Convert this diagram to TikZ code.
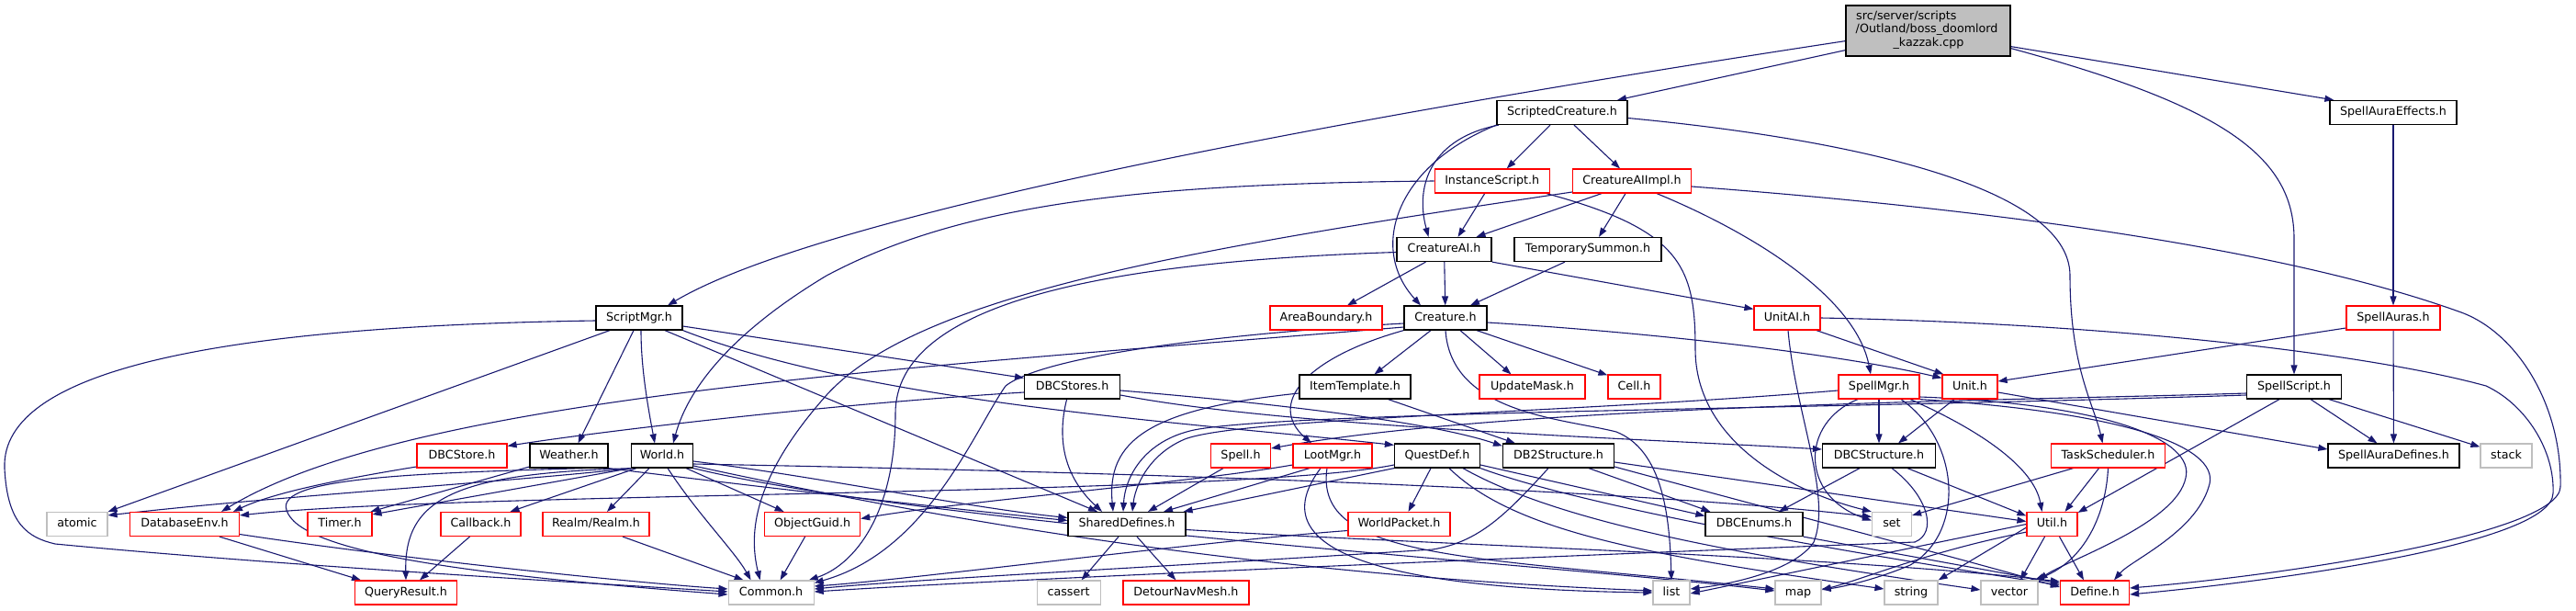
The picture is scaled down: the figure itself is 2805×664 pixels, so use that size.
\documentclass[tikz,border=0pt]{standalone}
\usepackage{fontspec}
\setmainfont{DejaVu Sans}
\usetikzlibrary{arrows.meta,backgrounds}
\definecolor{edgec}{HTML}{191970}
\definecolor{grayb}{HTML}{BFBFBF}
\definecolor{redb}{HTML}{FF0000}
\newcommand{\nodefont}{\fontsize{12.7}{14.7}\selectfont}
\tikzset{
  nbox/.style={draw=black, line width=1.2pt, minimum height=26pt, inner sep=0pt, text height=9.5pt, text depth=2.7pt, font=\nodefont, fill=white},
  rbox/.style={nbox, draw=redb},
  gbox/.style={nbox, draw=grayb},
  edg/.style={draw=edgec, line width=1.1pt, -{Triangle[length=10pt,width=7pt]}},
  lbl/.style={inner sep=0pt, font=\nodefont},
}
\begin{document}
\begin{tikzpicture}[x=1pt,y=-1pt]
\useasboundingbox (0,0) rectangle (2805,664);
% ---------- nodes ----------
\node[nbox, fill=grayb, minimum width=179pt, minimum height=55pt] (root) at (2099.5,33.5) {};
\node[lbl, anchor=base west] (rootA) at (2021,21) {src/server/scripts};
\node[lbl, anchor=base west] (rootB) at (2020.5,35.7) {/Outland/boss\_doomlord};
\node[lbl, anchor=base] (rootC) at (2100,50.4) {\_kazzak.cpp};

\node[nbox, minimum width=142pt] (SC) at (1701,122.5) {ScriptedCreature.h};
\node[nbox, minimum width=138pt] (SAE) at (2606,122.5) {SpellAuraEffects.h};
\node[rbox, minimum width=125pt] (IS) at (1624.7,197) {InstanceScript.h};
\node[rbox, minimum width=129pt] (CAII) at (1777,197) {CreatureAIImpl.h};
\node[nbox, minimum width=103pt] (CAI) at (1572.5,271.5) {CreatureAI.h};
\node[nbox, minimum width=160pt] (TS) at (1729,271.5) {TemporarySummon.h};
\node[nbox, minimum width=94pt] (SM) at (696,346) {ScriptMgr.h};
\node[rbox, minimum width=122pt] (AB) at (1444,346) {AreaBoundary.h};
\node[nbox, minimum width=90pt] (CR) at (1574,346) {Creature.h};
\node[rbox, minimum width=72pt] (UAI) at (1946,346) {UnitAI.h};
\node[rbox, minimum width=102pt] (SA) at (2606,346) {SpellAuras.h};
\node[nbox, minimum width=104pt] (DBCS) at (1167.6,421) {DBCStores.h};
\node[nbox, minimum width=121pt] (IT) at (1475.5,421) {ItemTemplate.h};
\node[rbox, minimum width=115pt] (UM) at (1668.5,421) {UpdateMask.h};
\node[rbox, minimum width=57pt] (CE) at (1779.5,421) {Cell.h};
\node[rbox, minimum width=88pt] (SPM) at (2046,421) {SpellMgr.h};
\node[rbox, minimum width=60pt] (UN) at (2145,421) {Unit.h};
\node[nbox, minimum width=103pt] (SS) at (2498,421) {SpellScript.h};
\node[rbox, minimum width=98pt] (DST) at (503,496) {DBCStore.h};
\node[nbox, minimum width=85pt] (WE) at (619.5,496) {Weather.h};
\node[nbox, minimum width=67pt] (WO) at (721,496) {World.h};
\node[rbox, minimum width=65pt] (SP) at (1351,496) {Spell.h};
\node[rbox, minimum width=86pt] (LM) at (1451,496) {LootMgr.h};
\node[nbox, minimum width=93pt] (QD) at (1565,496) {QuestDef.h};
\node[nbox, minimum width=121pt] (DB2) at (1697,496) {DB2Structure.h};
\node[nbox, minimum width=123pt] (DBCST) at (2046,496) {DBCStructure.h};
\node[rbox, minimum width=124pt] (TSK) at (2295.5,496) {TaskScheduler.h};
\node[nbox, minimum width=143pt] (SAD) at (2606.5,496) {SpellAuraDefines.h};
\node[gbox, minimum width=56pt] (ST) at (2729,496) {stack};
\node[gbox, minimum width=66pt] (AT) at (84,570.5) {atomic};
\node[rbox, minimum width=119pt] (DE) at (201,570.5) {DatabaseEnv.h};
\node[rbox, minimum width=70pt] (TI) at (370,570.5) {Timer.h};
\node[rbox, minimum width=87pt] (CB) at (523.5,570.5) {Callback.h};
\node[rbox, minimum width=116pt] (RE) at (649,570.5) {Realm/Realm.h};
\node[rbox, minimum width=104pt] (OG) at (884.6,570.5) {ObjectGuid.h};
\node[nbox, minimum width=128pt] (SD) at (1227,570.5) {SharedDefines.h};
\node[rbox, minimum width=111pt] (WP) at (1523.5,570.5) {WorldPacket.h};
\node[nbox, minimum width=106pt] (DBE) at (1910,570.5) {DBCEnums.h};
\node[gbox, minimum width=43pt] (SET) at (2060,570.5) {set};
\node[rbox, minimum width=55pt] (UT) at (2234.5,570.5) {Util.h};
\node[rbox, minimum width=111pt] (QR) at (442,645) {QueryResult.h};
\node[gbox, minimum width=93pt] (CO) at (839.6,645) {Common.h};
\node[gbox, minimum width=69pt] (CA) at (1163.6,645) {cassert};
\node[rbox, minimum width=137pt] (DN) at (1291.4,645) {DetourNavMesh.h};
\node[gbox, minimum width=40pt] (LI) at (1820,645) {list};
\node[gbox, minimum width=50pt] (MA) at (1958,645) {map};
\node[gbox, minimum width=58pt] (STR) at (2081,645) {string};
\node[gbox, minimum width=62pt] (VE) at (2188,645) {vector};
\node[rbox, minimum width=75pt] (DF) at (2281,645) {Define.h};

% ---------- edges ----------
\begin{pgfonlayer}{background}
% root
\draw[edg] ([yshift=7pt]root.south west) -- ([xshift=60pt]SC.north);
\draw[edg] ([yshift=17pt]root.south west) .. controls (1500,122) and (900,230) .. ([xshift=31pt]SM.north);
\draw[edg] ([yshift=11pt]root.south east) -- ([xshift=5pt]SAE.north west);
\draw[edg] ([yshift=9pt]root.south east) .. controls (2420,115) and (2498,170) .. (2498,260) -- (SS.north);
% ScriptedCreature
\draw[edg] ([xshift=-13pt]SC.south) -- ([xshift=16pt]IS.north);
\draw[edg] ([xshift=13pt]SC.south) -- ([xshift=-13pt]CAII.north);
\draw[edg] ([xshift=-69pt]SC.south) .. controls (1560,150) and (1540,200) .. ([xshift=-17pt]CAI.north);
\draw[edg] (SC.south west) .. controls (1520,180) and (1490,270) .. ([xshift=-27pt]CR.north);
\draw[edg] ([yshift=-6pt]SC.east) .. controls (2000,150) and (2254,200) .. (2254,300) .. controls (2254,400) and (2280,440) .. ([xshift=-6pt]TSK.north);
% SpellAuraEffects
\draw[edg] (SAE) -- (SA);
% InstanceScript
\draw[edg] (IS.west) .. controls (1250,200) and (1050,220) .. (900,300) .. controls (800,360) and (750,420) .. ([xshift=12pt]WO.north);
\draw[edg] ([xshift=-8pt]IS.south) -- ([xshift=15pt]CAI.north);
\draw[edg] ([xshift=-4pt]IS.south east) .. controls (1830,250) and (1846,290) .. (1846,380) .. controls (1846,480) and (1950,535) .. (SET.north west);
% CreatureAIImpl
\draw[edg] ([xshift=-33pt]CAII.south) -- ([xshift=35pt]CAI.north);
\draw[edg] ([xshift=-7pt]CAII.south) -- ([xshift=12pt]TS.north);
\draw[edg] ([yshift=-12pt]CAII.west) .. controls (1300,270) and (1000,320) .. (900,430) .. controls (820,520) and (815,580) .. ([xshift=-12pt]CO.north);
\draw[edg] ([yshift=-6pt]CAII.east) .. controls (2200,230) and (2500,275) .. (2680,340) .. controls (2740,362) and (2790,440) .. (2788,530) .. controls (2786,580) and (2500,625) .. ([yshift=5pt]DF.east);
\draw[edg] ([xshift=27pt]CAII.south) .. controls (1900,250) and (2020,320) .. ([xshift=-9pt]SPM.north);
% CreatureAI
\draw[edg] (CAI) -- (CR);
\draw[edg] ([xshift=-20pt]CAI.south) -- ([xshift=23pt]AB.north);
\draw[edg] (CAI.south east) -- ([yshift=-4pt]UAI.north west);
\draw[edg] ([yshift=-3pt]CAI.west) .. controls (1200,285) and (975,330) .. (975,450) .. controls (975,560) and (930,615) .. ([xshift=-6pt]CO.north east);
% TemporarySummon
\draw[edg] ([xshift=-25pt]TS.south) -- ([xshift=27pt]CR.north);
% ScriptMgr
\draw[edg] ([yshift=-3pt]SM.west) .. controls (250,355) and (0,400) .. (5,510) .. controls (8,570) and (30,585) .. (60,592) .. controls (300,615) and (600,632) .. ([yshift=1pt]CO.west);
\draw[edg] ([xshift=-32pt]SM.south) -- (AT.north east);
\draw[edg] ([xshift=-6pt]SM.south) -- ([xshift=10pt]WE.north);
\draw[edg] ([xshift=2pt]SM.south) .. controls (698,400) and (705,440) .. ([xshift=-8pt]WO.north);
\draw[edg] ([yshift=-9pt]SM.east) -- ([yshift=-4pt]DBCS.north west);
\draw[edg] ([xshift=28pt]SM.south) -- ([xshift=-32pt]SD.north);
\draw[edg] (SM.south east) .. controls (950,440) and (1300,460) .. ([yshift=-2pt]QD.north west);
% Creature
\draw[edg] ([xshift=-16pt]CR.south) -- ([xshift=21pt]IT.north);
\draw[edg] ([xshift=16pt]CR.south) -- ([xshift=-23pt]UM.north);
\draw[edg] ([xshift=34pt]CR.south) -- ([yshift=-1pt]CE.north west);
\draw[edg] (CR.south west) .. controls (1420,390) and (1380,440) .. ([xshift=-23pt]LM.north);
\draw[edg] (CR.south) .. controls (1580,450) and (1700,455) .. (1760,470) .. controls (1810,490) and (1818,560) .. (LI.north);
\draw[edg] ([yshift=-5pt]CR.east) .. controls (1800,362) and (2000,385) .. ([yshift=-4pt]UN.north west);
\draw[edg] ([yshift=-10pt]CR.west) .. controls (1000,400) and (450,430) .. ([xshift=40pt]DE.north);
\draw[edg] ([yshift=-6pt]CR.west) .. controls (1350,362) and (1140,385) .. (1095,420) .. controls (1060,470) and (1010,600) .. ([yshift=-3pt]CO.north east);
% UnitAI
\draw[edg] ([xshift=32pt]UAI.south) -- ([xshift=2pt]UN.north west);
\draw[edg] ([xshift=1pt]UAI.south) .. controls (1955,450) and (1995,540) .. (1975,590) .. controls (1955,620) and (1890,635) .. ([yshift=4pt]LI.east);
\draw[edg] (UAI.east) .. controls (2300,352) and (2580,385) .. (2707,420) .. controls (2750,440) and (2782,490) .. (2780,537) .. controls (2778,590) and (2500,630) .. ([yshift=-2pt]DF.east);
% SpellAuras
\draw[edg] ([yshift=-11pt]SA.west) -- ([yshift=6pt]UN.east);
\draw[edg] (SA) -- (SAD);
% SpellMgr
\draw[edg] (SPM) -- (DBCST);
\draw[edg] ([xshift=-23pt]SPM.south) .. controls (1960,460) and (1960,540) .. ([yshift=4pt]SET.west);
\draw[edg] ([xshift=34pt]SPM.south) .. controls (2160,470) and (2215,510) .. ([xshift=-11pt]UT.north);
\draw[edg] ([yshift=-4pt]SPM.west) .. controls (1700,450) and (1350,455) .. (1290,478) .. controls (1250,495) and (1236,530) .. ([xshift=6pt]SD.north);
\draw[edg] ([xshift=24pt]SPM.south) .. controls (2135,480) and (2140,580) .. (2080,615) .. controls (2040,632) and (2000,640) .. ([yshift=4pt]MA.east);
\draw[edg] ([yshift=-11pt]SPM.east) .. controls (2300,440) and (2390,480) .. (2380,520) .. controls (2370,570) and (2250,610) .. (VE.north east);
\draw[edg] (SPM.south east) .. controls (2330,450) and (2420,490) .. (2405,530) .. controls (2390,580) and (2320,610) .. ([xshift=21pt]DF.north);
% Unit
\draw[edg] ([yshift=-6pt]UN.east) -- ([yshift=7pt]SAD.west);
\draw[edg] ([xshift=-17pt]UN.south) -- ([xshift=21pt]DBCST.north);
% SpellScript
\draw[edg] ([yshift=-7pt]SS.west) .. controls (2200,436) and (1650,440) .. ([yshift=8pt]SP.east);
\draw[edg] ([yshift=-9pt]SS.west) .. controls (2000,445) and (1400,448) .. (1300,468) .. controls (1245,480) and (1225,520) .. ([xshift=-4pt]SD.north);
\draw[edg] ([xshift=-16pt]SS.south) -- ([yshift=-1pt]UT.north east);
\draw[edg] ([xshift=18pt]SS.south) -- ([xshift=-18pt]SAD.north);
\draw[edg] ([xshift=38pt]SS.south) -- ([yshift=-4pt]ST.north west);
% DBCStores
\draw[edg] ([yshift=-6pt]DBCS.west) .. controls (900,440) and (650,470) .. ([yshift=-3pt]DST.north east);
\draw[edg] ([xshift=-6pt]DBCS.south) .. controls (1150,480) and (1160,520) .. ([xshift=-27pt]SD.north);
\draw[edg] ([yshift=-4pt]DBCS.east) .. controls (1400,440) and (1560,460) .. ([yshift=-3pt]DB2.north west);
\draw[edg] ([yshift=-9pt]DBCS.east) .. controls (1400,465) and (1800,478) .. ([yshift=7pt]DBCST.west);
% ItemTemplate
\draw[edg] ([yshift=-7pt]IT.west) .. controls (1250,445) and (1205,480) .. ([xshift=-15pt]SD.north);
\draw[edg] ([xshift=36pt]IT.south) -- ([xshift=14pt]DB2.north west);
% Spell
\draw[edg] ([xshift=-19pt]SP.south) -- ([xshift=23pt]SD.north);
% DBCStore
\draw[edg] ([yshift=-12pt]DST.west) .. controls (380,520) and (300,535) .. ([xshift=53pt]DE.north);
% Weather
\draw[edg] ([yshift=-12pt]WE.west) -- ([xshift=-2pt]TI.north east);
\draw[edg] (WE.south east) .. controls (760,522) and (1000,550) .. ([yshift=4pt]SD.west);
\draw[edg] ([xshift=18pt]WE.south) .. controls (450,515) and (300,520) .. (312,555) .. controls (325,600) and (500,625) .. ([yshift=-2pt]CO.west);
% World
\draw[edg] ([yshift=-9pt]WO.east) .. controls (1300,515) and (1800,535) .. ([yshift=8pt]SET.west);
\draw[edg] ([yshift=-6pt]WO.east) .. controls (900,520) and (1050,552) .. ([yshift=7pt]SD.west);
\draw[edg] ([yshift=-11pt]WO.east) .. controls (1000,560) and (1350,625) .. ([yshift=2pt]LI.west);
\draw[edg] (WO.south east) .. controls (1000,570) and (1700,615) .. ([yshift=2pt]MA.west);
\draw[edg] ([xshift=-8pt]WO.south east) -- ([xshift=-31pt]OG.north);
\draw[edg] ([xshift=6pt]WO.south) .. controls (760,560) and (800,600) .. ([xshift=-22pt]CO.north);
\draw[edg] (WO.south west) -- ([yshift=-3pt]TI.north east);
\draw[edg] ([xshift=6pt]WO.south west) -- ([xshift=32pt]CB.north);
\draw[edg] ([xshift=-14pt]WO.south) -- ([xshift=12pt]RE.north);
\draw[edg] ([xshift=1pt]WO.south west) .. controls (550,525) and (300,540) .. ([yshift=-4pt]AT.north east);
\draw[edg] ([xshift=3pt]WO.south west) .. controls (500,515) and (440,540) .. (QR.north);
% DatabaseEnv
\draw[edg] ([xshift=38pt]DE.south) -- ([xshift=-49pt]QR.north);
\draw[edg] ([yshift=-11pt]DE.east) .. controls (450,610) and (700,635) .. ([yshift=4pt]CO.west);
% Callback, Realm, ObjectGuid
\draw[edg] ([xshift=-12pt]CB.south) -- ([xshift=15pt]QR.north);
\draw[edg] ([xshift=29pt]RE.south) -- ([xshift=-30pt]CO.north);
\draw[edg] ([xshift=-8pt]OG.south) -- ([xshift=10pt]CO.north);
% SharedDefines
\draw[edg] ([xshift=-9pt]SD.south) -- ([xshift=14pt]CA.north);
\draw[edg] ([xshift=11pt]SD.south) -- ([xshift=-11pt]DN.north);
\draw[edg] ([yshift=-6pt]SD.east) .. controls (1600,595) and (2000,605) .. ([yshift=12pt]DF.west);
% WorldPacket
\draw[edg] ([yshift=-7pt]WP.west) .. controls (1300,590) and (1000,630) .. ([yshift=7pt]CO.east);
% QuestDef
\draw[edg] ([xshift=-7pt]QD.south) -- ([xshift=10pt]WP.north);
\draw[edg] ([yshift=-10pt]QD.east) -- ([yshift=9pt]DBE.west);
\draw[edg] (QD.south west) -- ([xshift=-3pt]SD.north east);
\draw[edg] ([yshift=-10pt]QD.west) .. controls (1350,540) and (500,535) .. ([yshift=-4pt]DE.north east);
\draw[edg] ([xshift=13pt]QD.south) .. controls (1650,580) and (1800,605) .. ([yshift=4pt]STR.west);
\draw[edg] ([xshift=28pt]QD.south) .. controls (1700,570) and (1900,605) .. ([yshift=3pt]VE.west);
\draw[edg] (QD.south east) .. controls (1750,560) and (2100,615) .. ([yshift=8pt]DF.west);
% LootMgr
\draw[edg] ([yshift=-10pt]LM.west) .. controls (1300,525) and (1050,545) .. ([yshift=6pt]OG.east);
\draw[edg] ([xshift=-25pt]LM.south) -- ([xshift=40pt]SD.north);
\draw[edg] ([xshift=-13pt]LM.south) .. controls (1385,580) and (1440,640) .. (LI.west);
\draw[edg] ([xshift=-6pt]LM.south) .. controls (1430,610) and (1600,605) .. ([yshift=4pt]MA.west);
% DB2Structure
\draw[edg] ([xshift=33pt]DB2.south) -- ([xshift=6pt]DBE.north west);
\draw[edg] ([yshift=-7pt]DB2.east) -- ([yshift=3pt]UT.west);
\draw[edg] ([xshift=-11pt]DB2.south) .. controls (1640,560) and (1610,590) .. (1560,598) .. controls (1300,615) and (1000,630) .. ([yshift=4pt]CO.east);
\draw[edg] ([yshift=-12pt]DB2.east) .. controls (1950,560) and (2150,612) .. ([yshift=6pt]DF.west);
% DBCStructure
\draw[edg] ([xshift=-21pt]DBCST.south) -- ([xshift=27pt]DBE.north);
\draw[edg] ([xshift=31pt]DBCST.south) -- ([yshift=9pt]UT.west);
\draw[edg] ([xshift=14pt]DBCST.south) .. controls (2100,540) and (2110,580) .. (2085,590) .. controls (1700,605) and (1100,630) .. ([yshift=1pt]CO.east);
% TaskScheduler
\draw[edg] ([xshift=-10pt]TSK.south) -- ([xshift=14pt]UT.north);
\draw[edg] ([xshift=-38pt]TSK.south) -- ([yshift=-4pt]SET.north east);
\draw[edg] (TSK.south) .. controls (2293,560) and (2270,610) .. ([xshift=-4pt]VE.north east);
% DBCEnums
\draw[edg] (DBE.south east) -- ([yshift=10pt]DF.west);
% Util
\draw[edg] ([xshift=8pt]UT.south) -- ([xshift=-12pt]DF.north);
\draw[edg] ([xshift=-8pt]UT.south) -- ([xshift=12pt]VE.north);
\draw[edg] ([yshift=10pt]UT.south west) -- (STR.north east);
\draw[edg] ([yshift=5pt]UT.south west) .. controls (2100,600) and (2030,630) .. ([yshift=3pt]MA.east);
\draw[edg] (UT.west) -- ([yshift=-1pt]LI.east);
\end{pgfonlayer}
\end{tikzpicture}
\end{document}
